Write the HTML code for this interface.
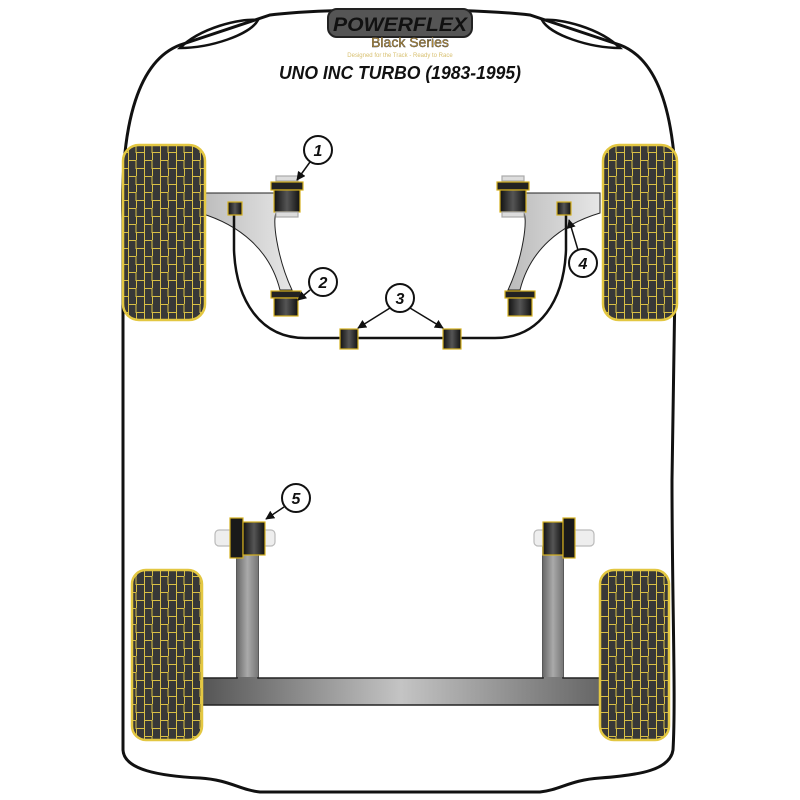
<!DOCTYPE html>
<html><head><style>body{margin:0;background:#fff}svg{display:block}</style></head><body>
<svg width="800" height="800" viewBox="0 0 800 800" xmlns="http://www.w3.org/2000/svg">
<defs>
<pattern id="tread" width="16" height="16" patternUnits="userSpaceOnUse">
<rect width="16" height="16" fill="#383838"/>
<path d="M0 0.5H8V8.5H16M0.5 0V16M8.5 8V16" stroke="#d9bf45" stroke-width="1" fill="none"/>
</pattern>
<marker id="ah" viewBox="0 0 10 10" refX="9" refY="5" markerWidth="6" markerHeight="6" orient="auto"><path d="M0 0L10 5L0 10Z" fill="#111"/></marker>
<linearGradient id="gv" x1="0" x2="1"><stop offset="0" stop-color="#6a6a6a"/><stop offset="0.5" stop-color="#aaa"/><stop offset="1" stop-color="#777"/></linearGradient>
<linearGradient id="gh" x1="0" x2="1"><stop offset="0" stop-color="#555"/><stop offset="0.5" stop-color="#c4c4c4"/><stop offset="1" stop-color="#666"/></linearGradient>
<linearGradient id="arm" x1="0" x2="1"><stop offset="0" stop-color="#bbb"/><stop offset="1" stop-color="#e6e6e6"/></linearGradient>
<linearGradient id="bush" x1="0" x2="1"><stop offset="0" stop-color="#111"/><stop offset="0.5" stop-color="#555"/><stop offset="1" stop-color="#111"/></linearGradient>
</defs>
<path d="M123 220 C120 120 140 60 180 45 L270 15 C330 8 470 8 530 15 L620 45 C660 60 678 120 676 220 L672 480 C672 600 676 700 673 750 C670 770 640 775 600 778 C570 780 560 790 540 792 L260 792 C240 790 230 780 200 778 C160 776 124 770 123 750 Z" fill="none" stroke="#111" stroke-width="3"/>
<path d="M180 48 C200 28 240 18 258 20 C250 35 210 48 180 48 Z" fill="none" stroke="#111" stroke-width="2.5"/>
<path d="M620 48 C600 28 560 18 542 20 C550 35 590 48 620 48 Z" fill="none" stroke="#111" stroke-width="2.5"/>
<rect x="328" y="9" width="144" height="28" rx="9" fill="#555" stroke="#222" stroke-width="2"/>
<text x="400" y="31" text-anchor="middle" font-family="Liberation Sans, sans-serif" font-weight="bold" font-style="italic" font-size="19" fill="#111" textLength="134" lengthAdjust="spacingAndGlyphs">POWERFLEX</text>
<text x="410" y="47" text-anchor="middle" font-family="Liberation Sans, sans-serif" font-size="14" fill="#c89a3a" stroke="#333" stroke-width="0.4">Black Series</text>
<text x="400" y="57" text-anchor="middle" font-family="Liberation Sans, sans-serif" font-size="6" fill="#d8c070">Designed for the Track - Ready to Race</text>
<text x="400" y="79" text-anchor="middle" font-family="Liberation Sans, sans-serif" font-weight="bold" font-style="italic" font-size="18" fill="#111" textLength="242" lengthAdjust="spacingAndGlyphs">UNO INC TURBO (1983-1995)</text>
<path d="M200 193 H278 V210 C270 215 278 260 292 290 H280 C270 250 240 225 200 213 Z" fill="url(#arm)" stroke="#222" stroke-width="1"/>
<path d="M600 193 H522 V210 C530 215 522 260 508 290 H520 C530 250 560 225 600 213 Z" fill="url(#arm)" stroke="#222" stroke-width="1"/>
<path d="M234 212 V250 C236 300 260 338 305 338 H495 C540 338 564 300 566 250 V212" fill="none" stroke="#111" stroke-width="2.5"/>
<g stroke="#d4b020" stroke-width="1.2">
<rect x="276" y="176" width="22" height="5" fill="#ddd" stroke="#aaa"/>
<rect x="271" y="182" width="32" height="8" fill="#222"/><rect x="274" y="190" width="26" height="22" fill="url(#bush)"/>
<rect x="276" y="212" width="22" height="5" fill="#ddd" stroke="#aaa"/>
<rect x="502" y="176" width="22" height="5" fill="#ddd" stroke="#aaa"/>
<rect x="497" y="182" width="32" height="8" fill="#222"/><rect x="500" y="190" width="26" height="22" fill="url(#bush)"/>
<rect x="502" y="212" width="22" height="5" fill="#ddd" stroke="#aaa"/>
<rect x="271" y="291" width="30" height="7" fill="#222"/><rect x="274" y="298" width="24" height="18" fill="url(#bush)"/>
<rect x="505" y="291" width="30" height="7" fill="#222"/><rect x="508" y="298" width="24" height="18" fill="url(#bush)"/>
<rect x="228" y="202" width="14" height="13" fill="url(#bush)"/>
<rect x="557" y="202" width="14" height="13" fill="url(#bush)"/>
<rect x="340" y="329" width="18" height="20" fill="url(#bush)"/>
<rect x="443" y="329" width="18" height="20" fill="url(#bush)"/>
</g>
<path d="M237 545 H258 V678 H543 V545 H563 V678 H600 V705 H202 V678 H237 Z" fill="url(#gh)" stroke="#222" stroke-width="1.5"/>
<rect x="237" y="555" width="21" height="122" fill="url(#gv)"/>
<rect x="543" y="555" width="20" height="122" fill="url(#gv)"/>
<g stroke="#d4b020" stroke-width="1.2">
<rect x="215" y="530" width="60" height="16" rx="4" fill="#eee" stroke="#bbb"/>
<rect x="230" y="518" width="13" height="40" fill="#1a1a1a"/><rect x="243" y="522" width="22" height="33" fill="url(#bush)"/>
<rect x="534" y="530" width="60" height="16" rx="4" fill="#eee" stroke="#bbb"/>
<rect x="543" y="522" width="20" height="33" fill="url(#bush)"/><rect x="563" y="518" width="12" height="40" fill="#1a1a1a"/>
</g>
<g stroke="#e3c742" stroke-width="2.5">
<rect x="123" y="145" width="82" height="175" rx="16" fill="url(#tread)"/>
<rect x="603" y="145" width="74" height="175" rx="16" fill="url(#tread)"/>
<rect x="132" y="570" width="70" height="170" rx="14" fill="url(#tread)"/>
<rect x="600" y="570" width="69" height="170" rx="14" fill="url(#tread)"/>
</g>
<g fill="#fff" stroke="#111" stroke-width="2">
<circle cx="318" cy="150" r="14"/><circle cx="323" cy="282" r="14"/><circle cx="400" cy="298" r="14"/><circle cx="583" cy="263" r="14"/><circle cx="296" cy="498" r="14"/>
</g>
<g font-family="Liberation Sans, sans-serif" font-weight="bold" font-style="italic" font-size="16" text-anchor="middle" fill="#111">
<text x="318" y="156">1</text><text x="323" y="288">2</text><text x="400" y="304">3</text><text x="583" y="269">4</text><text x="296" y="504">5</text>
</g>
<g stroke="#111" stroke-width="1.5" fill="none" marker-end="url(#ah)">
<path d="M310 162 L297 180"/><path d="M310 290 L298 300"/><path d="M390 308 L358 328"/><path d="M410 308 L443 328"/><path d="M578 250 L569 220"/><path d="M284 507 L266 519"/>
</g>
</svg>
</body></html>
